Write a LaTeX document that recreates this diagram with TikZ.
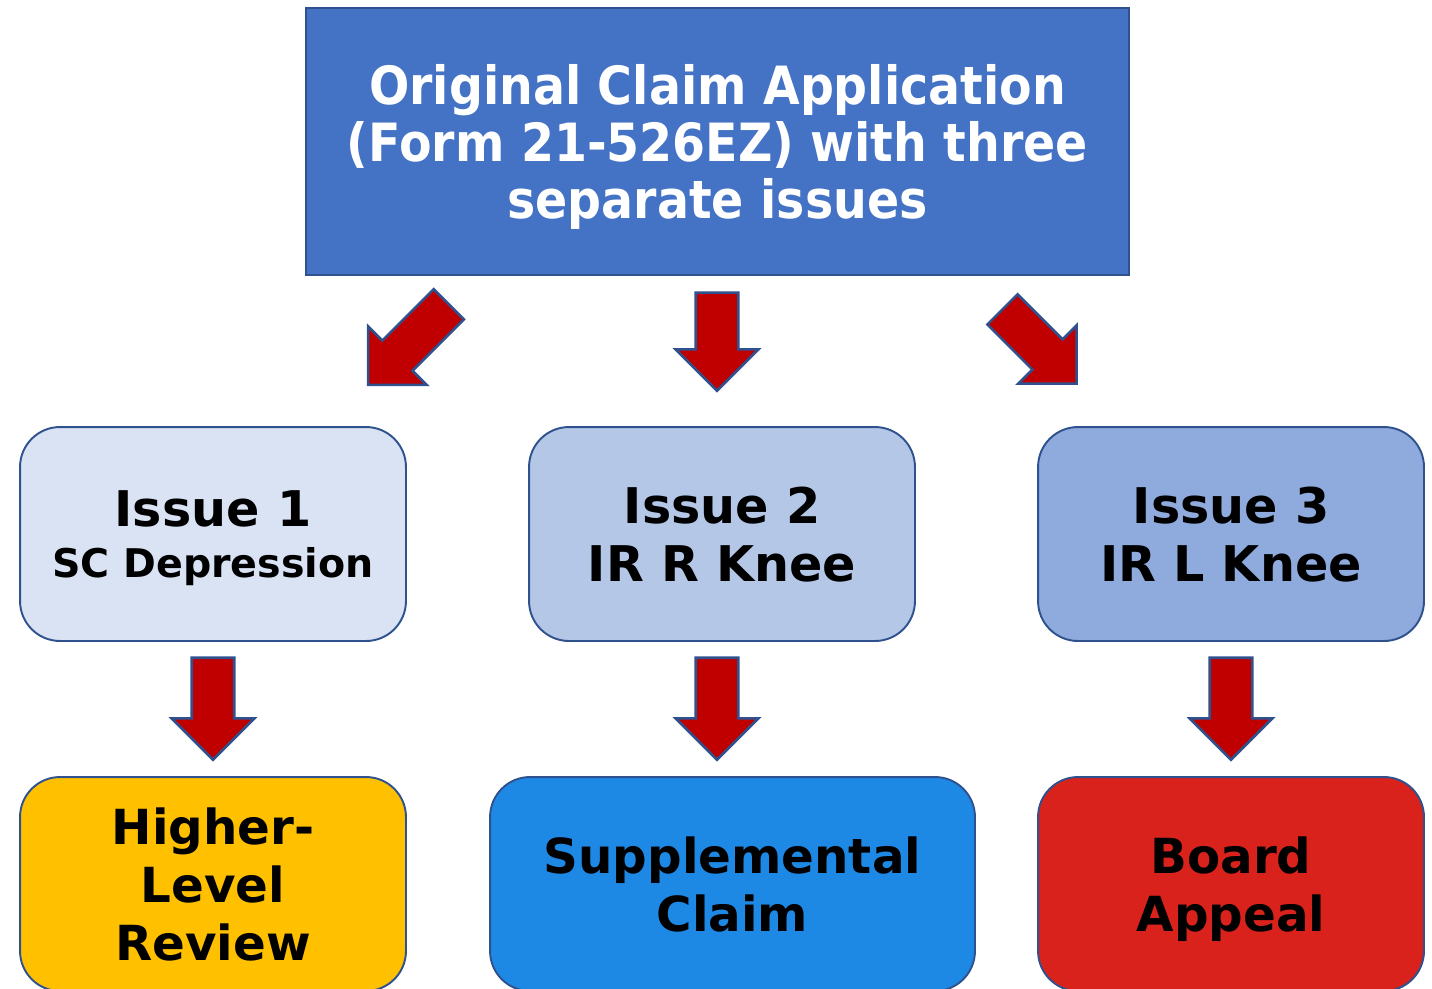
\documentclass[tikz,border=0pt]{standalone}
\usepackage{fontspec}
\setmainfont{DejaVu Sans}
\newfontfamily\headfont[FakeStretch=0.9]{DejaVu Sans}
\usetikzlibrary{shapes.arrows}

\definecolor{headblue}{HTML}{4472C4}
\definecolor{edgeblue}{HTML}{2F528F}
\definecolor{issueone}{HTML}{DAE3F3}
\definecolor{issuetwo}{HTML}{B4C7E7}
\definecolor{issuethree}{HTML}{8FAADC}
\definecolor{hlryellow}{HTML}{FFC000}
\definecolor{scblue}{HTML}{1E88E5}
\definecolor{boardred}{HTML}{D9221C}
\definecolor{arrowred}{HTML}{C00000}

\begin{document}
\begin{tikzpicture}[x=0.02cm, y=-0.02cm,
    box/.style={draw=edgeblue, line width=1.1pt, rounded corners=0.8cm,
        minimum width=7.72cm, minimum height=4.28cm, align=center, text depth=0pt,
        font=\fontsize{27.5}{33}\selectfont\bfseries},
    issuefont/.style={font=\fontsize{28}{33}\selectfont\bfseries},
    blockarrow/.style={single arrow, draw=edgeblue, line width=1.5pt, fill=arrowred,
        inner xsep=0pt, inner ysep=0.4cm, single arrow head extend=0.4cm,
        single arrow head indent=0pt}]
        \useasboundingbox (0, 0) rectangle (1432, 988);

        \node[draw=edgeblue, line width=1.1pt, fill=headblue, text=white,
            minimum width=16.46cm, minimum height=5.34cm, align=center, text depth=0pt,
            font=\fontsize{30}{32.5}\selectfont\headfont\bfseries]
            (claim) at (717.5, 141.5)
            {Original Claim Application\\(Form 21-526EZ) with three\\separate issues};

        \node[box, issuefont, fill=issueone] (issue1) at (213, 534)
            {Issue 1\\[-4pt]{\fontsize{22.5}{28}\selectfont SC Depression}};
        \node[box, issuefont, fill=issuetwo] (issue2) at (722, 534) {Issue 2\\IR R Knee};
        \node[box, issuefont, fill=issuethree] (issue3) at (1231, 534) {Issue 3\\IR L Knee};

        \node[box, fill=hlryellow] (hlr) at (213, 884) {Higher-\\Level\\Review};
        \node[box, fill=scblue, minimum width=9.7cm] (supp) at (732.5, 884) {Supplemental\\Claim};
        \node[box, fill=boardred] (board) at (1231, 884) {Board\\Appeal};

        \node[blockarrow, minimum height=2.28cm, rotate=-135] (a1) at (416, 337) {};
        \node[blockarrow, minimum height=1.96cm, rotate=-90] (a2) at (717, 331) {};
        \node[blockarrow, minimum height=2.1cm, rotate=-45] (a3) at (1032, 339) {};

        \node[blockarrow, minimum height=2.04cm, rotate=-90] (b1) at (213, 698) {};
        \node[blockarrow, minimum height=2.04cm, rotate=-90] (b2) at (717, 698) {};
        \node[blockarrow, minimum height=2.04cm, rotate=-90] (b3) at (1231, 698) {};

    \end{tikzpicture}
\end{document}
